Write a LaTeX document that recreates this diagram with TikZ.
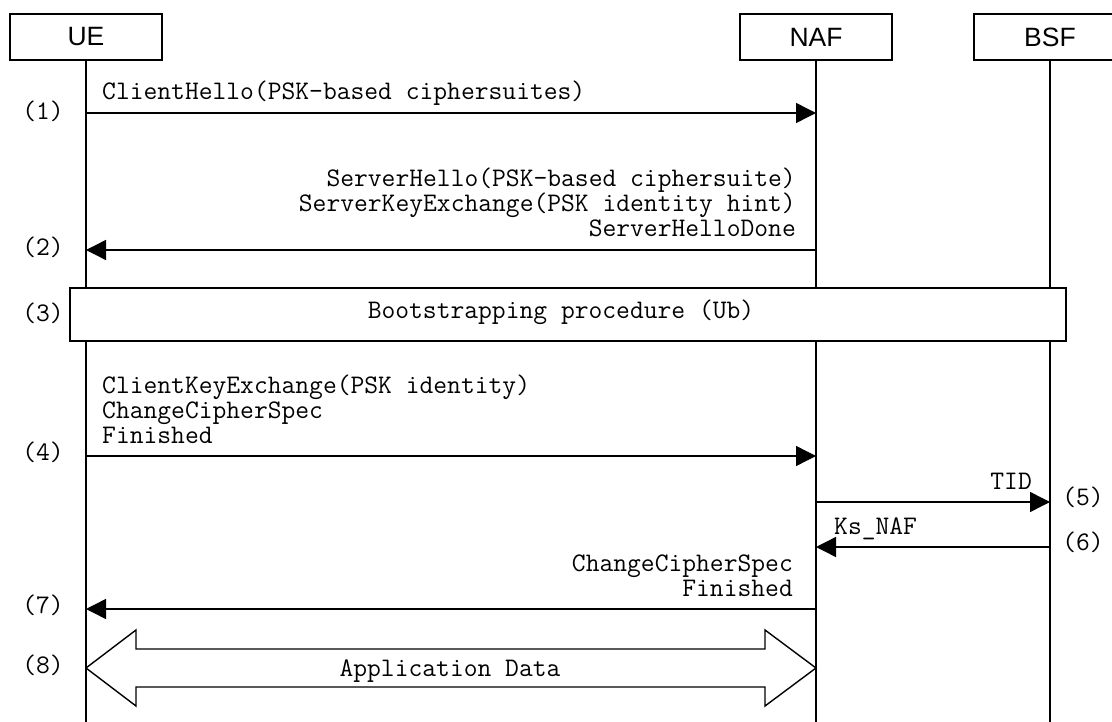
\documentclass[tikz,border=0pt]{standalone}
\usepackage{fontspec}
\setmainfont{Liberation Sans}
\usetikzlibrary{arrows.meta,calc}
\begin{document}
\begin{tikzpicture}[x=1pt,y=-1pt,
  entity/.style={draw,line width=1.4pt,fill=white,minimum width=152pt,minimum height=46pt,
    inner sep=0pt,font=\fontsize{26.5}{26.5}\selectfont},
  life/.style={line width=1.4pt},
  msg/.style={line width=1.4pt,-{Triangle[length=20pt,width=20pt]}},
  txt/.style={inner sep=0pt,font=\ttfamily\fontsize{26.8}{28}\selectfont},
  steplabel/.style={txt,anchor=center}]
\useasboundingbox (0,0) rectangle (1112,722);
\clip (0,0) rectangle (1112,722);

% participants
\node[entity] (UE)  at (86,37)   {UE};
\node[entity] (NAF) at (816,37)  {NAF};
\node[entity] (BSF) at (1050,37) {BSF};

% message heights
\coordinate (m1) at (0,113);
\coordinate (m2) at (0,250);
\coordinate (m3) at (0,314.5);
\coordinate (m4) at (0,456);
\coordinate (m5) at (0,502);
\coordinate (m6) at (0,547);
\coordinate (m7) at (0,609);
\coordinate (m8) at (0,668);
\coordinate (end) at (0,722);

% lifelines
\draw[life] (UE.south)  -- (UE |- end);
\draw[life] (NAF.south) -- (NAF |- end);
\draw[life] (BSF.south) -- (BSF |- end);

% (1)
\draw[msg] (UE |- m1) -- (NAF |- m1);
\node[txt,anchor=base west] (t1) at (102,100) {ClientHello(PSK-based ciphersuites)};
\node[steplabel] (s1) at (43,111) {(1)};

% (2)
\draw[msg] (NAF |- m2) -- (UE |- m2);
\node[txt,anchor=base east] (t2a) at (796,187) {ServerHello(PSK-based ciphersuite)};
\node[txt,anchor=base east] (t2b) at (796,212) {ServerKeyExchange(PSK identity hint)};
\node[txt,anchor=base east] (t2c) at (796,237) {ServerHelloDone};
\node[steplabel] (s2) at (43,247) {(2)};

% (3) bootstrapping box across all lifelines
\node[draw,line width=1.4pt,fill=white,minimum width=996pt,minimum height=53pt,inner sep=0pt]
  (boot) at (568,314.5) {};
\node[txt,anchor=base] (t3) at (561,319) {Bootstrapping procedure (Ub)};
\node[steplabel] (s3) at (43,313) {(3)};

% (4)
\draw[msg] (UE |- m4) -- (NAF |- m4);
\node[txt,anchor=base west] (t4a) at (102,393) {ClientKeyExchange(PSK identity)};
\node[txt,anchor=base west] (t4b) at (102,418) {ChangeCipherSpec};
\node[txt,anchor=base west] (t4c) at (102,443) {Finished};
\node[steplabel] (s4) at (43,452) {(4)};

% (5)
\draw[msg] (NAF |- m5) -- (BSF |- m5);
\node[txt,anchor=base east] (t5) at (1032,489) {TID};
\node[steplabel] (s5) at (1083,497) {(5)};

% (6)
\draw[msg] (BSF |- m6) -- (NAF |- m6);
\node[txt,anchor=base west] (t6) at (834,534) {Ks\_NAF};
\node[steplabel] (s6) at (1083,542) {(6)};

% (7)
\draw[msg] (NAF |- m7) -- (UE |- m7);
\node[txt,anchor=base east] (t7a) at (793,571) {ChangeCipherSpec};
\node[txt,anchor=base east] (t7b) at (793,596) {Finished};
\node[steplabel] (s7) at (43,605) {(7)};

% (8) application data, hollow double arrow
\coordinate (a8) at (UE |- m8);
\coordinate (b8) at (NAF |- m8);
\draw[line width=1.4pt,fill=white,line join=miter]
  (a8) -- ++(50,-38) -- ++(0,19) -- ($(b8)+(-51,-19)$) -- ++(0,-19) -- (b8)
  -- ++(-51,38) -- ++(0,-19) -- ($(a8)+(50,19)$) -- ++(0,19) -- cycle;
\node[txt,anchor=base] (t8) at (450,676) {Application Data};
\node[steplabel] (s8) at (43,665) {(8)};
\end{tikzpicture}
\end{document}
